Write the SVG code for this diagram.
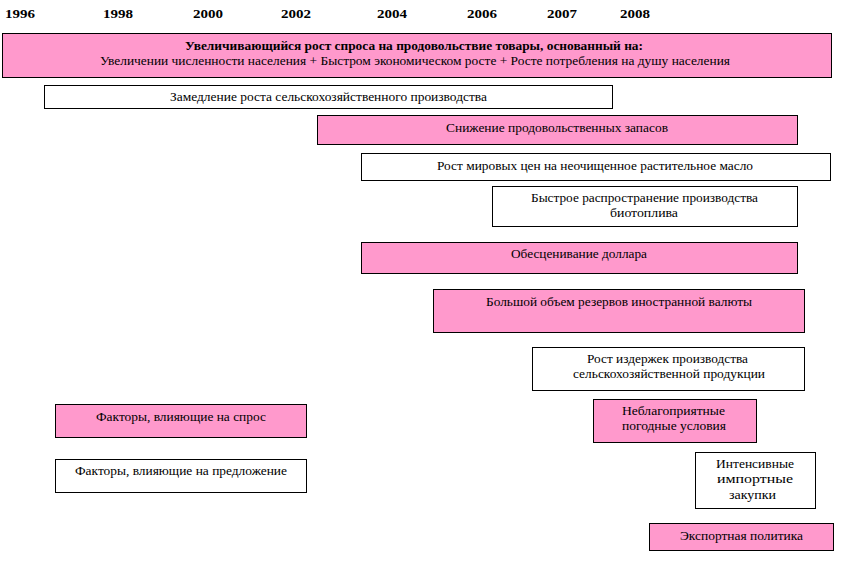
<svg xmlns="http://www.w3.org/2000/svg" width="847" height="568" viewBox="0 0 847 568">
<style>
.pk{fill:#FF99CC;stroke:#000;stroke-width:1}
.wh{fill:#FFFFFF;stroke:#000;stroke-width:1}
text{font-size:11.5px;fill:#000}
.yr{font-weight:bold;font-size:12.5px}
.b{font-weight:bold}
</style>
<rect width="847" height="568" fill="#FFFFFF"/>
<g font-family="Liberation Serif, DejaVu Serif, Times New Roman, serif">
<g id="years">
<text class="yr" x="5" y="18" textLength="30" lengthAdjust="spacingAndGlyphs">1996</text>
<text class="yr" x="103" y="18" textLength="30" lengthAdjust="spacingAndGlyphs">1998</text>
<text class="yr" x="193" y="18" textLength="30" lengthAdjust="spacingAndGlyphs">2000</text>
<text class="yr" x="281" y="18" textLength="30" lengthAdjust="spacingAndGlyphs">2002</text>
<text class="yr" x="377" y="18" textLength="30" lengthAdjust="spacingAndGlyphs">2004</text>
<text class="yr" x="467" y="18" textLength="30" lengthAdjust="spacingAndGlyphs">2006</text>
<text class="yr" x="547" y="18" textLength="30" lengthAdjust="spacingAndGlyphs">2007</text>
<text class="yr" x="620" y="18" textLength="30" lengthAdjust="spacingAndGlyphs">2008</text>
</g>
<g id="n1"><rect class="pk" x="2.5" y="33.5" width="829" height="44"/>
<text class="b" x="185" y="50" textLength="458" lengthAdjust="spacingAndGlyphs">Увеличивающийся рост спроса на продовольствие товары, основанный на:</text>
<text x="100" y="65" textLength="630" lengthAdjust="spacingAndGlyphs">Увеличении численности населения + Быстром экономическом росте + Росте потребления на душу населения</text></g>
<g id="n2"><rect class="wh" x="44.5" y="85.5" width="568" height="23"/>
<text x="170" y="101" textLength="317" lengthAdjust="spacingAndGlyphs">Замедление роста сельскохозяйственного производства</text></g>
<g id="n3"><rect class="pk" x="317.5" y="115.5" width="480" height="29"/>
<text x="446" y="132" textLength="222" lengthAdjust="spacingAndGlyphs">Снижение продовольственных запасов</text></g>
<g id="n4"><rect class="wh" x="361.5" y="153.5" width="469" height="27"/>
<text x="437" y="170" textLength="316" lengthAdjust="spacingAndGlyphs">Рост мировых цен на неочищенное растительное масло</text></g>
<g id="n5"><rect class="wh" x="492.5" y="186.5" width="305" height="40"/>
<text x="531" y="202" textLength="227" lengthAdjust="spacingAndGlyphs">Быстрое распространение производства</text>
<text x="610" y="217" textLength="68" lengthAdjust="spacingAndGlyphs">биотоплива</text></g>
<g id="n6"><rect class="pk" x="361.5" y="242.5" width="436" height="31"/>
<text x="511" y="258" textLength="136" lengthAdjust="spacingAndGlyphs">Обесценивание доллара</text></g>
<g id="n7"><rect class="pk" x="433.5" y="289.5" width="371" height="43"/>
<text x="486" y="306" textLength="266" lengthAdjust="spacingAndGlyphs">Большой объем резервов иностранной валюты</text></g>
<g id="n8"><rect class="wh" x="532.5" y="347.5" width="272" height="43"/>
<text x="587" y="363" textLength="161" lengthAdjust="spacingAndGlyphs">Рост издержек производства</text>
<text x="573" y="378" textLength="192" lengthAdjust="spacingAndGlyphs">сельскохозяйственной продукции</text></g>
<g id="n9"><rect class="pk" x="593.5" y="399.5" width="163" height="43"/>
<text x="622" y="415" textLength="103" lengthAdjust="spacingAndGlyphs">Неблагоприятные</text>
<text x="622" y="430" textLength="104" lengthAdjust="spacingAndGlyphs">погодные условия</text></g>
<g id="n10"><rect class="wh" x="695.5" y="452.5" width="120" height="56"/>
<text x="716" y="468" textLength="78" lengthAdjust="spacingAndGlyphs">Интенсивные</text>
<text x="717" y="483" textLength="76" lengthAdjust="spacingAndGlyphs">импортные</text>
<text x="729" y="499" textLength="47" lengthAdjust="spacingAndGlyphs">закупки</text></g>
<g id="n11"><rect class="pk" x="649.5" y="523.5" width="184" height="27"/>
<text x="680" y="540" textLength="123" lengthAdjust="spacingAndGlyphs">Экспортная политика</text></g>
<g id="legend1"><rect class="pk" x="55.5" y="404.5" width="251" height="33"/>
<text x="96" y="421" textLength="170" lengthAdjust="spacingAndGlyphs">Факторы, влияющие на спрос</text></g>
<g id="legend2"><rect class="wh" x="55.5" y="459.5" width="251" height="33"/>
<text x="75" y="475" textLength="212" lengthAdjust="spacingAndGlyphs">Факторы, влияющие на предложение</text></g>
</g>
<g id="connectors"></g>
</svg>
